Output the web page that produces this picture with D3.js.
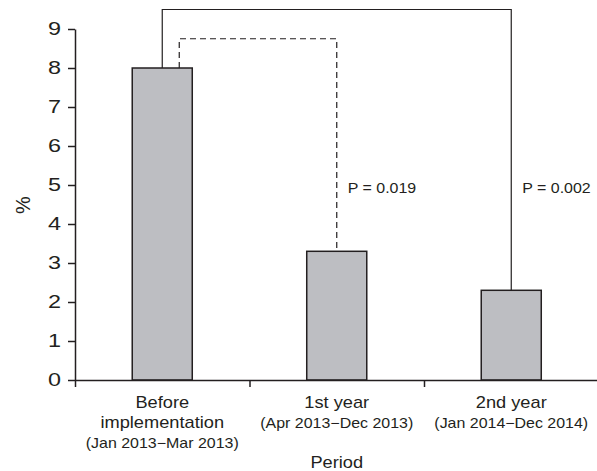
<!DOCTYPE html>
<html>
<head>
<meta charset="utf-8">
<script src="https://cdn.jsdelivr.net/npm/d3@7"></script>
<style>
  html, body { margin: 0; padding: 0; background: #fff; }
  svg { display: block; }
  text { font-family: "Liberation Sans", Arial, Helvetica, sans-serif; fill: #231f20; }
</style>
</head>
<body>
<svg id="chart" width="597" height="471"></svg>
<script>
// ---- data ----
const categories = ["Before implementation", "1st year", "2nd year"];
const labelLine1 = ["Before", "1st year", "2nd year"];
const labelLine2 = ["implementation", "(Apr 2013\u2212Dec 2013)", "(Jan 2014\u2212Dec 2014)"];
const labelLine3 = ["(Jan 2013\u2212Mar 2013)", "", ""];
const values = [8.0, 3.3, 2.3];
const yTicks = [0, 1, 2, 3, 4, 5, 6, 7, 8, 9];
const compareFrom = [0, 0];
const compareTo = [2, 1];
const compareHeight = [9.5, 8.75];
const compareDashed = [false, true];
const compareLabel = ["P = 0.002", "P = 0.019"];
const labelValue = [4.8, 4.8];

// ---- layout ----
const svg = d3.select("#chart");
const mLeft = 75, mRight = 598.5, mTop = 29, mBottom = 380;
const ink = "#231f20";
const SX = 1.14; // horizontal text stretch seen in the reference

function addText(parent, px, py, str, size, anchor, sx) {
  return parent.append("text")
    .attr("transform", `translate(${px},${py}) scale(${sx || SX},1)`)
    .attr("text-anchor", anchor || "start")
    .attr("font-size", size)
    .text(str);
}

const y = d3.scaleLinear().domain([0, 9]).range([mBottom, mTop]);
const x = d3.scaleBand().domain(categories).range([mLeft, mRight])
  .paddingInner(0.656).paddingOuter(0.328);
const edges = d3.scaleLinear().domain([0, categories.length]).range([mLeft, mRight]);
const cx = i => x(categories[i]) + x.bandwidth() / 2;

// bars
svg.append("g").selectAll("rect").data(values).join("rect")
  .attr("x", (d, i) => x(categories[i]))
  .attr("y", d => y(d))
  .attr("width", x.bandwidth())
  .attr("height", d => y(0) - y(d))
  .attr("fill", "#bdbec2")
  .attr("stroke", ink)
  .attr("stroke-width", 1.5);

// comparison brackets
const bracketOffset = [0, 17];
compareFrom.forEach((f, k) => {
  const t = compareTo[k];
  const x1 = cx(f) + bracketOffset[k];
  const x2 = cx(t);
  const path = d3.path();
  path.moveTo(x1, y(values[f]));
  path.lineTo(x1, y(compareHeight[k]));
  path.lineTo(x2, y(compareHeight[k]));
  path.lineTo(x2, y(values[t]));
  svg.append("path")
    .attr("d", path.toString())
    .attr("fill", "none")
    .attr("stroke", ink)
    .attr("stroke-width", 1.2)
    .attr("stroke-dasharray", compareDashed[k] ? "6,4" : null);
  addText(svg, x2 + 11, y(labelValue[k]), compareLabel[k], 14);
});

// y axis
const ySX = 1.3;
const yAxis = svg.append("g")
  .attr("transform", `translate(${mLeft},0)`)
  .call(d3.axisLeft(y).tickValues(yTicks).tickSize(7).tickPadding(7).tickSizeOuter(0));
yAxis.select(".domain").attr("stroke", ink).attr("stroke-width", 1.5);
yAxis.selectAll(".tick line").attr("stroke", ink).attr("stroke-width", 1.5);
yAxis.selectAll(".tick text")
  .attr("font-size", 18)
  .attr("font-family", null)
  .attr("fill", ink)
  .attr("x", -14 / ySX)
  .attr("transform", `scale(${ySX},1)`);

// x axis (ticks at category boundaries)
const xAxis = svg.append("g")
  .attr("transform", `translate(0,${mBottom})`)
  .call(d3.axisBottom(edges).tickValues(d3.range(categories.length + 1)).tickSize(7).tickFormat("").tickSizeOuter(0));
xAxis.select(".domain").attr("stroke", ink).attr("stroke-width", 1.5);
xAxis.selectAll(".tick line").attr("stroke", ink).attr("stroke-width", 1.5);

// category labels
const labels = svg.append("g");
categories.forEach((c, i) => {
  addText(labels, cx(i), 407.5, labelLine1[i], 16, "middle");
  addText(labels, cx(i), 428, labelLine2[i], i === 0 ? 16 : 14, "middle");
  if (labelLine3[i]) addText(labels, cx(i), 448, labelLine3[i], 14, "middle");
});

// axis titles
addText(svg, (edges(1) + edges(2)) / 2, 468, "Period", 16, "middle");
svg.append("text").attr("transform", `translate(30,205) rotate(-90) scale(1,1)`)
  .attr("text-anchor", "middle").attr("font-size", 20).text("%");
</script>
</body>
</html>
